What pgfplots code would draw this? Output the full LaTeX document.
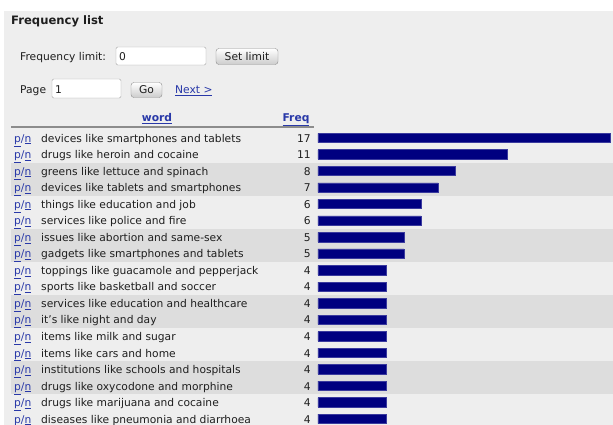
\documentclass[border=0pt]{standalone}
\usepackage{pgfplots}
\usepackage{pgfplotstable}
\pgfplotsset{compat=1.18}
\usepackage{fontspec}
\setmainfont{DejaVu Sans}

\definecolor{pagebg}{HTML}{EEEEEE}
\definecolor{bandbg}{HTML}{DDDDDD}
\definecolor{barfill}{HTML}{000080}
\definecolor{barline}{HTML}{3A3A9E}
\definecolor{linkblue}{HTML}{2838A8}
\definecolor{txt}{HTML}{1E1E1E}

\newcommand{\rowfont}{\fontsize{10.7}{13}\selectfont}
\newcommand{\pn}{\makebox[27pt][l]{\textcolor{linkblue}{\underline{p}/\underline{n}}}}

\pgfplotstableread[col sep=comma]{
idx,freq,word
0,17,devices like smartphones and tablets
1,11,drugs like heroin and cocaine
2,8,greens like lettuce and spinach
3,7,devices like tablets and smartphones
4,6,things like education and job
5,6,services like police and fire
6,5,issues like abortion and same-sex
7,5,gadgets like smartphones and tablets
8,4,toppings like guacamole and pepperjack
9,4,sports like basketball and soccer
10,4,services like education and healthcare
11,4,it's like night and day
12,4,items like milk and sugar
13,4,items like cars and home
14,4,institutions like schools and hospitals
15,4,drugs like oxycodone and morphine
16,4,drugs like marijuana and cocaine
17,4,diseases like pneumonia and diarrhoea
}\freqtable

\begin{document}
\begin{tikzpicture}[x=1pt, y=-1pt, font=\rowfont, text=txt]
\useasboundingbox (0,0) rectangle (613,425);
\clip (0,0) rectangle (613,425);
\fill[pagebg] (4,11) rectangle (613,425);

% form part of the page
\node[anchor=base west, font=\fontsize{11.6}{14}\selectfont\bfseries, inner sep=0] at (11,24.5) {Frequency list};
\node[anchor=base west, inner sep=0] at (20,60.5) {Frequency limit:};
\draw[fill=white, draw=black!35, rounded corners=1.5] (116,47) rectangle (206,65);
\node[anchor=base west, inner sep=0] at (119,60.5) {0};
\draw[rounded corners=3, draw=black!45, top color=white, bottom color=black!20] (216,48.5) rectangle (278,64.5);
\node[anchor=base, inner sep=0] at (247,60.5) {Set limit};
\node[anchor=base west, inner sep=0] at (20,93.5) {Page};
\draw[fill=white, draw=black!35, rounded corners=1.5] (52,79) rectangle (121,98);
\node[anchor=base west, inner sep=0] at (55,93.5) {1};
\draw[rounded corners=3, draw=black!45, top color=white, bottom color=black!20] (131,82.5) rectangle (162,97.5);
\node[anchor=base, inner sep=0] at (146.5,94) {Go};
\node[anchor=base west, inner sep=0, text=linkblue] at (175,93.5) {\underline{Next >}};

% table header
\node[anchor=base, inner sep=0, font=\rowfont\bfseries, text=linkblue] at (157,122) {\underline{word}};
\node[anchor=base, inner sep=0, font=\rowfont\bfseries, text=linkblue] at (296,122) {\underline{Freq}};
\draw[black!45, line width=1.2pt] (11,127) -- (314,127);

% alternating row shading, two rows per band
\fill[bandbg] (11,162.8) rectangle (613,195.8);
\fill[bandbg] (11,228.9) rectangle (613,261.9);
\fill[bandbg] (11,295.0) rectangle (613,328.1);
\fill[bandbg] (11,361.2) rectangle (613,394.2);

\begin{axis}[
  at={(318pt,-129.7pt)}, anchor=north west,
  scale only axis,
  width=292pt, height=297.5pt,
  xmin=0, xmax=17,
  ymin=-0.5, ymax=17.5,
  y dir=reverse,
  clip=false,
  axis line style={draw=none},
  major tick length=0pt,
  xtick=\empty,
  ytick={0,...,17},
  yticklabels from table={\freqtable}{word},
  yticklabel style={anchor=base west, inner sep=0pt, xshift=-304pt, yshift=-4.2pt,
    font=\rowfont, text=txt, execute at begin node={\pn}},
]
  \addplot[xbar, bar width=9.4pt, fill=barfill, draw=barline, line width=0.6pt]
    table[x=freq, y=idx] {\freqtable};

  \addplot[draw=none, mark=none, point meta=explicit symbolic,
    nodes near coords={\pgfplotspointmeta},
    nodes near coords style={anchor=base east, inner sep=0pt, xshift=-7pt, yshift=-4.2pt,
      font=\rowfont, text=txt}]
    table[x expr=0, y=idx, meta=freq] {\freqtable};
\end{axis}
\end{tikzpicture}
\end{document}
